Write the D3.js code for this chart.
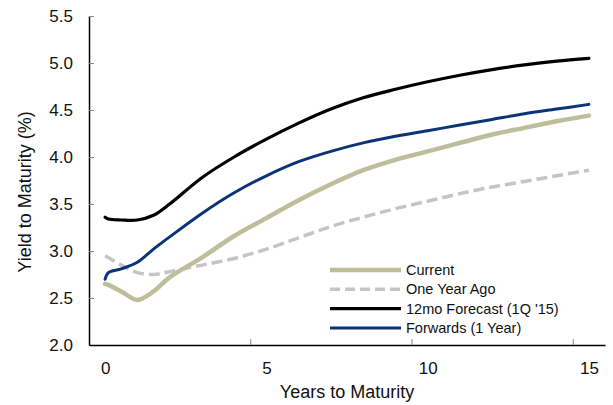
<!DOCTYPE html>
<html>
<head>
<meta charset="utf-8">
<script src="https://cdn.jsdelivr.net/npm/d3@7"></script>
<style>
body { margin: 0; background: #fff; }
svg { display: block; font-family: "Liberation Sans", Arial, sans-serif; }
</style>
</head>
<body>
<svg id="chart" width="613" height="405"></svg>
<script>
const maturities = [0, 0.1, 0.5, 1, 1.5, 2, 3, 4, 5, 6, 7, 8, 9, 10, 11, 12, 13, 14, 15];
const current    = [2.65, 2.64, 2.57, 2.48, 2.57, 2.72, 2.93, 3.16, 3.35, 3.54, 3.71, 3.86, 3.97, 4.06, 4.15, 4.24, 4.31, 4.38, 4.44];
const oneYearAgo = [2.95, 2.93, 2.85, 2.77, 2.75, 2.78, 2.85, 2.92, 3.02, 3.14, 3.26, 3.36, 3.45, 3.53, 3.61, 3.68, 3.74, 3.80, 3.86];
const forecast   = [3.36, 3.34, 3.33, 3.33, 3.38, 3.50, 3.78, 4.00, 4.19, 4.36, 4.51, 4.63, 4.72, 4.80, 4.87, 4.93, 4.98, 5.02, 5.05];
const forwards   = [2.70, 2.77, 2.81, 2.88, 3.02, 3.15, 3.40, 3.62, 3.80, 3.95, 4.06, 4.15, 4.22, 4.28, 4.34, 4.40, 4.46, 4.51, 4.56];
const seriesNames = ["Current", "One Year Ago", "12mo Forecast (1Q '15)", "Forwards (1 Year)"];
const yTicks = [2.0, 2.5, 3.0, 3.5, 4.0, 4.5, 5.0, 5.5];
const xTicks = [0, 5, 10, 15];

const styles = [
  {color: "#BDBE9C", width: 4.5, dash: null},
  {color: "#C3C5C9", width: 3.5, dash: "11,5"},
  {color: "#000000", width: 3.2, dash: null},
  {color: "#0B3478", width: 3, dash: null}
];
const seriesData = [current, oneYearAgo, forecast, forwards];

const svg = d3.select("#chart");
const x = d3.scaleLinear().domain([-0.5, 15.5]).range([89, 605]);
const y = d3.scaleLinear().domain([2, 5.5]).range([345, 16]);

// Y axis
const yAxis = svg.append("g").attr("transform", "translate(89,0)")
  .call(d3.axisLeft(y).tickValues(yTicks).tickFormat(d3.format(".1f")).tickSizeInner(-5).tickSizeOuter(0).tickPadding(16));
yAxis.select(".domain").attr("stroke", "#000").attr("stroke-width", 1.5);
yAxis.selectAll(".tick line").attr("stroke", "#888");
yAxis.selectAll("text").attr("font-size", 17).attr("fill", "#111");

// X axis labels
const xAxis = svg.append("g").attr("transform", "translate(0,345)")
  .call(d3.axisBottom(x).tickValues(xTicks).tickSize(0).tickPadding(17));
xAxis.select(".domain").attr("stroke", "#000").attr("stroke-width", 1.5);
xAxis.selectAll("text").attr("font-size", 17).attr("fill", "#111");
// X axis tick marks (between categories)
const xTickMarks = svg.append("g").attr("transform", "translate(0,345)")
  .call(d3.axisBottom(x).tickValues(xTicks.slice(1).map(d => d - 0.5)).tickSizeInner(-6).tickSizeOuter(0).tickFormat(""));
xTickMarks.select(".domain").remove();
xTickMarks.selectAll(".tick line").attr("stroke", "#888");

// Lines
const line = d3.line().x((d, i) => x(maturities[i])).y(d => y(d)).curve(d3.curveCatmullRom.alpha(0.5));
const order = [1, 0, 3, 2];
order.forEach(k => {
  svg.append("path").datum(seriesData[k])
    .attr("d", line)
    .attr("fill", "none")
    .attr("stroke", styles[k].color)
    .attr("stroke-width", styles[k].width)
    .attr("stroke-dasharray", styles[k].dash)
    .attr("stroke-linecap", k === 1 ? "butt" : "round")
    .attr("stroke-linejoin", "round");
});

// Legend
const legend = svg.append("g");
seriesNames.forEach((name, i) => {
  const ly = 270 + i * 19.3;
  legend.append("line").attr("x1", 330).attr("x2", 401).attr("y1", ly).attr("y2", ly)
    .attr("stroke", styles[i].color).attr("stroke-width", styles[i].width)
    .attr("stroke-dasharray", styles[i].dash ? "10,5" : null);
  legend.append("text").attr("x", 406).attr("y", ly).attr("dy", "0.35em")
    .attr("font-size", 14.5).attr("fill", "#111").text(name);
});

// Axis titles
svg.append("text").attr("x", 347).attr("y", 398).attr("text-anchor", "middle")
  .attr("font-size", 18).attr("fill", "#111").text("Years to Maturity");
svg.append("text").attr("transform", "translate(31,192) rotate(-90)").attr("text-anchor", "middle")
  .attr("font-size", 18).attr("fill", "#111").text("Yield to Maturity (%)");
</script>
</body>
</html>
